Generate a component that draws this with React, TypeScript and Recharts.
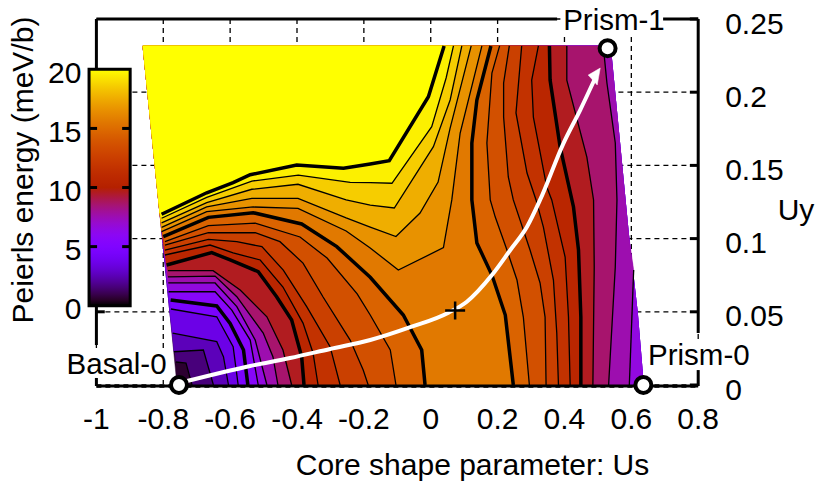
import { ScatterChart, Scatter, XAxis, YAxis, CartesianGrid, ReferenceArea, ReferenceLine } from "recharts";

type Pair = [number, number];

// ── Axes ─────────────────────────────────────────────────

const US_TICKS = [-1, -0.8, -0.6, -0.4, -0.2, 0, 0.2, 0.4, 0.6, 0.8];
const UY_TICKS = [0, 0.05, 0.1, 0.15, 0.2, 0.25];
const ENERGY_TICKS = [0, 5, 10, 15, 20];
const COLORBAR_MINOR = [5, 10, 15];

// ── Surface outline (Us, Uy) ─────────────────────────────

const TOP_LEFT: Pair = [-0.8606, 0.2316];
const EDGE_LEFT: Pair[] = [[-0.81, 0.1175], [-0.78, 0.0492], [-0.759, 0]];
const EDGE_RIGHT: Pair[] = [[0.636, 0], [0.618, 0.0492], [0.591, 0.1038], [0.537, 0.2316]];

// ── Contours, branch from the left edge ──────────────────

const L20: Pair[] = [[-0.805, 0.1166], [-0.67, 0.1313], [-0.591, 0.1382], [-0.54, 0.1436], [-0.401, 0.1503], [-0.261, 0.148], [-0.181, 0.1509], [-0.124, 0.1532], [-0.007, 0.1969], [0.04, 0.2316]];
const L19: Pair[] = [[-0.805, 0.1139], [-0.67, 0.1282], [-0.535, 0.1393], [-0.396, 0.1434], [-0.241, 0.1384], [-0.181, 0.1382], [-0.116, 0.1378], [0.003, 0.1764], [0.046, 0.2097], [0.068, 0.2316]];
const L18: Pair[] = [[-0.805, 0.1108], [-0.67, 0.1245], [-0.535, 0.1337], [-0.397, 0.1371], [-0.253, 0.1264], [-0.181, 0.1229], [-0.109, 0.1209], [0.008, 0.1628], [0.058, 0.1947], [0.093, 0.2316]];
const L17: Pair[] = [[-0.805, 0.1077], [-0.67, 0.1216], [-0.535, 0.1275], [-0.397, 0.1275], [-0.253, 0.1141], [-0.181, 0.1079], [-0.104, 0.1014], [-0.032, 0.1175], [0.022, 0.1386], [0.058, 0.1755], [0.121, 0.2316]];
const L16: Pair[] = [[-0.805, 0.1047], [-0.67, 0.1184], [-0.531, 0.1216], [-0.397, 0.1207], [-0.253, 0.1052], [-0.181, 0.0936], [-0.097, 0.0785], [0.038, 0.0938], [0.063, 0.1264], [0.088, 0.1721], [0.153, 0.2316]];
const L15: Pair[] = [[-0.8, 0.1013], [-0.665, 0.1145], [-0.531, 0.1177], [-0.386, 0.11], [-0.281, 0.0945], [-0.181, 0.0736], [-0.082, 0.0478], [-0.027, 0.0239], [-0.017, 0]];
const L14: Pair[] = [[-0.795, 0.0979], [-0.665, 0.1088], [-0.525, 0.1106], [-0.391, 0.1011], [-0.31, 0.0867], [-0.22, 0.0622], [-0.181, 0.0478], [-0.121, 0.0239], [-0.104, 0]];
const L13: Pair[] = [[-0.795, 0.0956], [-0.665, 0.104], [-0.525, 0.104], [-0.451, 0.0979], [-0.382, 0.0833], [-0.322, 0.0601], [-0.241, 0.0307], [-0.202, 0.0102], [-0.187, 0]];
const L12: Pair[] = [[-0.795, 0.0922], [-0.665, 0.0995], [-0.58, 0.0979], [-0.505, 0.0945], [-0.441, 0.0785], [-0.371, 0.0535], [-0.301, 0.0262], [-0.271, 0]];
const L11: Pair[] = [[-0.795, 0.0888], [-0.66, 0.0956], [-0.591, 0.0902], [-0.51, 0.0854], [-0.442, 0.0669], [-0.382, 0.0423], [-0.352, 0.0219], [-0.337, 0]];
const L10: Pair[] = [[-0.79, 0.082], [-0.655, 0.0904], [-0.6, 0.0854], [-0.516, 0.0774], [-0.461, 0.0603], [-0.416, 0.0444], [-0.386, 0.0193], [-0.379, 0]];
const L9: Pair[] = [[-0.786, 0.0781], [-0.651, 0.0781], [-0.57, 0.0649], [-0.49, 0.0466], [-0.442, 0.0239], [-0.416, 0]];
const L8: Pair[] = [[-0.786, 0.0738], [-0.645, 0.0744], [-0.58, 0.0603], [-0.501, 0.0355], [-0.472, 0.0193], [-0.457, 0]];
const L7: Pair[] = [[-0.785, 0.0697], [-0.645, 0.0697], [-0.58, 0.0535], [-0.525, 0.0307], [-0.49, 0]];
const L6: Pair[] = [[-0.784, 0.0637], [-0.645, 0.0637], [-0.595, 0.0512], [-0.54, 0.0307], [-0.516, 0]];
const L5: Pair[] = [[-0.778, 0.0581], [-0.64, 0.054], [-0.6, 0.0421], [-0.56, 0.0239], [-0.547, 0]];
const L4: Pair[] = [[-0.777, 0.0519], [-0.64, 0.0466], [-0.591, 0.0262], [-0.576, 0]];
const L3: Pair[] = [[-0.772, 0.0355], [-0.64, 0.0296], [-0.62, 0.0193], [-0.605, 0]];
const L2: Pair[] = [[-0.768, 0.0227], [-0.68, 0.0239], [-0.65, 0]];
const L1: Pair[] = [[-0.762, 0.0157], [-0.732, 0.015], [-0.714, 0]];

// ── Contours, branch on the right side (top to bottom) ───

const R15: Pair[] = [[0.18, 0.2316], [0.138, 0.1947], [0.123, 0.1653], [0.123, 0.1264], [0.138, 0.097], [0.183, 0.0751], [0.223, 0.0478], [0.247, 0]];
const R14: Pair[] = [[0.206, 0.2316], [0.183, 0.2131], [0.168, 0.1653], [0.178, 0.1264], [0.193, 0.1147], [0.228, 0.0922], [0.258, 0.0717], [0.277, 0.0464], [0.295, 0]];
const R13: Pair[] = [[0.235, 0.2316], [0.218, 0.2063], [0.218, 0.183], [0.232, 0.1421], [0.247, 0.1264], [0.297, 0.0922], [0.327, 0.0697], [0.342, 0.0464], [0.345, 0]];
const R12: Pair[] = [[0.272, 0.2316], [0.255, 0.1858], [0.288, 0.1448], [0.315, 0.1264], [0.337, 0.1079], [0.367, 0.0717], [0.377, 0.0355], [0.382, 0]];
const R11: Pair[] = [[0.322, 0.2316], [0.302, 0.2083], [0.307, 0.183], [0.347, 0.1352], [0.362, 0.1264], [0.402, 0.0874], [0.412, 0.0464], [0.417, 0]];
const R10: Pair[] = [[0.355, 0.2316], [0.357, 0.2083], [0.387, 0.1626], [0.427, 0.1216], [0.442, 0.0922], [0.449, 0.0464], [0.449, 0]];
const R9: Pair[] = [[0.407, 0.2316], [0.407, 0.2083], [0.467, 0.1557], [0.487, 0.1264], [0.489, 0.0806], [0.485, 0]];
const R8: Pair[] = [[0.516, 0.2316], [0.527, 0.2063], [0.552, 0.1653], [0.557, 0.1264], [0.552, 0.0806], [0.532, 0]];
const R7: Pair[] = [[0.607, 0.0785], [0.594, 0]];

const LEFT_BRANCHES = [L1, L2, L3, L4, L5, L6, L7, L8, L9, L10, L11, L12, L13, L14, L15, L16, L17, L18, L19, L20];
const RIGHT_BRANCHES: Record<number, Pair[]> = { 7: R7, 8: R8, 9: R9, 10: R10, 11: R11, 12: R12, 13: R13, 14: R14, 15: R15 };

// ── Path and markers ─────────────────────────────────────

const ARROW_PATH: Pair[] = [[-0.729, 0.0027], [-0.54, 0.013], [-0.421, 0.0184], [-0.301, 0.0246], [-0.181, 0.0307], [-0.057, 0.0398], [0.053, 0.0494], [0.108, 0.0569], [0.183, 0.0751], [0.238, 0.0922], [0.288, 0.1081], [0.327, 0.1264], [0.397, 0.1651], [0.447, 0.1878], [0.492, 0.2097]];
const ARROW_HEAD: Pair[] = [[0.507, 0.2165], [0.471, 0.2117], [0.498, 0.2049]];
const SADDLE: Pair[] = [[0.073, 0.0509]];
const STATES: Pair[] = [[-0.753, 0], [0.636, 0], [0.529, 0.23]];

const LABEL_TEXTS = ["Prism-1", "Prism-0", "Basal-0"];
const LABEL_POINTS: Pair[] = [[0.396, 0.2425], [0.65, 0.0137], [-0.79, 0.0075]];
const LABEL_ANCHORS = ["start", "start", "end"];

// ── Frame pieces, the labels and colour bar break it ─────

const FRAME: Pair[][] = [
  [[-1, 0.25], [0.378, 0.25]],
  [[0.695, 0.25], [0.8, 0.25]],
  [[0.8, 0.25], [0.8, 0.0355]],
  [[0.8, 0.0102], [0.8, -0.0007]],
  [[-1, 0.25], [-1, 0.2153]],
  [[-1, 0.054], [-1, 0.0273]],
  [[-1, 0.0048], [-1, -0.0007]],
  [[-1, -0.0007], [0.8, -0.0007]],
  [[-1, 0.05], [-0.975, 0.05]],
];

// ── Shared styles ────────────────────────────────────────

const FONT = "'Liberation Sans', Arial, sans-serif";
const FONT_SIZE = 30;
const TICK = { fill: "#000", fontSize: FONT_SIZE, fontFamily: FONT };

// gnuplot palette 7,5,15
function paletteColor(value: number) {
  const t = Math.min(1, Math.max(0, value / 20));
  const r = Math.sqrt(t);
  const g = t * t * t;
  const b = Math.max(0, Math.sin(2 * Math.PI * t));
  const hex = (c: number) => Math.round(c * 255).toString(16).padStart(2, "0");
  return `#${hex(r)}${hex(g)}${hex(b)}`;
}

const COLORBAR_STOPS = Array.from({ length: 41 }, (_, i) => i / 40);

const toPoints = (pairs: Pair[]) => pairs.map(([x, y]) => ({ x, y }));
const noDot = () => <g />;

// Closed region where the energy is at least this level
function regionAbove(level: number): Pair[] {
  const left = LEFT_BRANCHES[level - 1];
  const right = RIGHT_BRANCHES[level];
  const startY = left[0][1];
  const edge = EDGE_LEFT.filter((p) => p[1] > startY);
  let middle: Pair[] = [];
  if (level <= 6) middle = EDGE_RIGHT;
  else if (level === 7) middle = [...[...right].reverse(), ...EDGE_RIGHT.filter((p) => p[1] > right[0][1])];
  else if (right) middle = [...right].reverse();
  return [...left, ...middle, TOP_LEFT, ...edge];
}

const polygonLine = (fill: string) => (props: any) => (
  <polygon
    points={props.points.map((p: any) => `${p.x},${p.y}`).join(" ")}
    fill={fill}
    stroke={fill}
    strokeWidth={0.5}
  />
);

function Marker(props: any) {
  return <circle cx={props.cx} cy={props.cy} r={8} fill="#fff" stroke="#000" strokeWidth={4} />;
}

function Plus(props: any) {
  const { cx, cy } = props;
  return <path d={`M${cx - 10} ${cy}H${cx + 10}M${cx} ${cy - 9}V${cy + 9}`} stroke="#000" strokeWidth={2.5} fill="none" />;
}

function BoxedLabel(props: any) {
  const { cx, cy, index } = props;
  const anchor = LABEL_ANCHORS[index];
  const w = 100;
  const bx = anchor === "end" ? cx - w : cx;
  return (
    <g>
      <rect x={bx - 2} y={cy - 24} width={w + 4} height={30} fill="#fff" />
      <text x={cx} y={cy} textAnchor={anchor} fontSize={29.5} fontFamily={FONT} fill="#000">
        {LABEL_TEXTS[index]}
      </text>
    </g>
  );
}

export default function App() {
  const outline = [TOP_LEFT, ...EDGE_LEFT, ...EDGE_RIGHT];
  return (
    <div style={{ position: "absolute", left: 0, top: 0, width: 817, height: 485, background: "#fff" }}>
      <ScatterChart width={817} height={485} margin={{ top: 19, right: 0, bottom: 0, left: 0 }}>
        <defs>
          <linearGradient id="energyBar" x1="0" y1="0" x2="0" y2="1">
            {COLORBAR_STOPS.map((s) => (
              <stop key={s} offset={s} stopColor={paletteColor(20 * (1 - s))} />
            ))}
          </linearGradient>
        </defs>
        <XAxis
          type="number"
          dataKey="x"
          domain={[-1, 0.8]}
          ticks={US_TICKS}
          interval={0}
          axisLine={false}
          tickLine={false}
          tickSize={0}
          tickMargin={21}
          height={98}
          tick={TICK}
        />
        <YAxis
          yAxisId="uy"
          orientation="right"
          type="number"
          dataKey="y"
          domain={[-0.00137, 0.25]}
          ticks={UY_TICKS}
          interval={0}
          axisLine={false}
          tickLine={false}
          tickSize={0}
          tickMargin={27}
          width={118.8}
          tick={{ ...TICK, dy: 4 }}
        />
        <YAxis
          yAxisId="energy"
          orientation="left"
          type="number"
          dataKey="y"
          domain={[-6.878, 24.26]}
          ticks={ENERGY_TICKS}
          interval={0}
          axisLine={false}
          tickLine={false}
          tickSize={0}
          tickMargin={15}
          width={96.4}
          tick={{ ...TICK, dy: 3 }}
        />
        <CartesianGrid yAxisId="uy" stroke="#000" strokeWidth={1.3} strokeDasharray="5 4" />

        {/* keeps the energy axis alive, it has no marks of its own */}
        <Scatter
          yAxisId="energy"
          data={ENERGY_TICKS.map((y) => ({ x: -1, y }))}
          shape={noDot}
          isAnimationActive={false}
        />

        {/* filled surface, painted from low to high */}
        <Scatter
          yAxisId="uy"
          data={toPoints(outline)}
          line={polygonLine(paletteColor(0.6))}
          lineType="joint"
          shape={noDot}
          isAnimationActive={false}
        />
        {LEFT_BRANCHES.map((_, i) => (
          <Scatter
            key={`fill${i}`}
            yAxisId="uy"
            data={toPoints(regionAbove(i + 1))}
            line={polygonLine(paletteColor(i + 1 + 0.6))}
            lineType="joint"
            shape={noDot}
            isAnimationActive={false}
          />
        ))}

        {/* contour lines, every fifth one heavy */}
        {LEFT_BRANCHES.map((branch, i) => (
          <Scatter
            key={`left${i}`}
            yAxisId="uy"
            data={toPoints(branch)}
            line={{ stroke: "#000", strokeWidth: (i + 1) % 5 === 0 ? 3.5 : 1.3 }}
            lineType="joint"
            shape={noDot}
            isAnimationActive={false}
          />
        ))}
        {Object.entries(RIGHT_BRANCHES).map(([level, branch]) => (
          <Scatter
            key={`right${level}`}
            yAxisId="uy"
            data={toPoints(branch)}
            line={{ stroke: "#000", strokeWidth: +level % 5 === 0 ? 3.5 : 1.3 }}
            lineType="joint"
            shape={noDot}
            isAnimationActive={false}
          />
        ))}

        {/* minimum energy path */}
        <Scatter
          yAxisId="uy"
          data={toPoints(ARROW_PATH)}
          line={{ stroke: "#fff", strokeWidth: 4 }}
          lineType="joint"
          lineJointType="monotoneX"
          shape={noDot}
          isAnimationActive={false}
        />
        <Scatter
          yAxisId="uy"
          data={toPoints(ARROW_HEAD)}
          line={polygonLine("#fff")}
          lineType="joint"
          shape={noDot}
          isAnimationActive={false}
        />
        <Scatter yAxisId="uy" data={toPoints(SADDLE)} shape={Plus} isAnimationActive={false} />

        {/* colour bar */}
        <ReferenceArea
          yAxisId="energy"
          x1={-1.022}
          x2={-0.899}
          y1={0}
          y2={20}
          ifOverflow="visible"
          fill="url(#energyBar)"
          fillOpacity={1}
          stroke="#000"
          strokeWidth={3}
        />
        {COLORBAR_MINOR.map((v) => (
          <ReferenceLine
            key={`a${v}`}
            yAxisId="energy"
            segment={[{ x: -1.022, y: v }, { x: -0.998, y: v }]}
            ifOverflow="visible"
            stroke="#000"
            strokeWidth={3}
          />
        ))}
        {COLORBAR_MINOR.map((v) => (
          <ReferenceLine
            key={`b${v}`}
            yAxisId="energy"
            segment={[{ x: -0.923, y: v }, { x: -0.899, y: v }]}
            ifOverflow="visible"
            stroke="#000"
            strokeWidth={3}
          />
        ))}

        <Scatter yAxisId="uy" data={toPoints(LABEL_POINTS)} shape={BoxedLabel} isAnimationActive={false} />

        {FRAME.map((piece, i) => (
          <Scatter
            key={`frame${i}`}
            yAxisId="uy"
            data={toPoints(piece)}
            line={{ stroke: "#000", strokeWidth: 3 }}
            lineType="joint"
            shape={noDot}
            isAnimationActive={false}
          />
        ))}
        {UY_TICKS.map((t) => (
          <Scatter
            key={`tick${t}`}
            yAxisId="uy"
            data={[{ x: 0.775, y: t }, { x: 0.8, y: t }]}
            line={{ stroke: "#000", strokeWidth: 3 }}
            lineType="joint"
            shape={noDot}
            isAnimationActive={false}
          />
        ))}

        <Scatter yAxisId="uy" data={toPoints(STATES)} shape={Marker} isAnimationActive={false} />

        <text x={472.5} y={475} textAnchor="middle" fontSize={FONT_SIZE} fontFamily={FONT} fill="#000">
          Core shape parameter: Us
        </text>
        <text x={33} y={170} textAnchor="middle" fontSize={FONT_SIZE} fontFamily={FONT} fill="#000" transform="rotate(-90 33 170)">
          Peierls energy (meV/b)
        </text>
        <text x={796} y={220} textAnchor="middle" fontSize={FONT_SIZE} fontFamily={FONT} fill="#000">
          Uy
        </text>
      </ScatterChart>
    </div>
  );
}
